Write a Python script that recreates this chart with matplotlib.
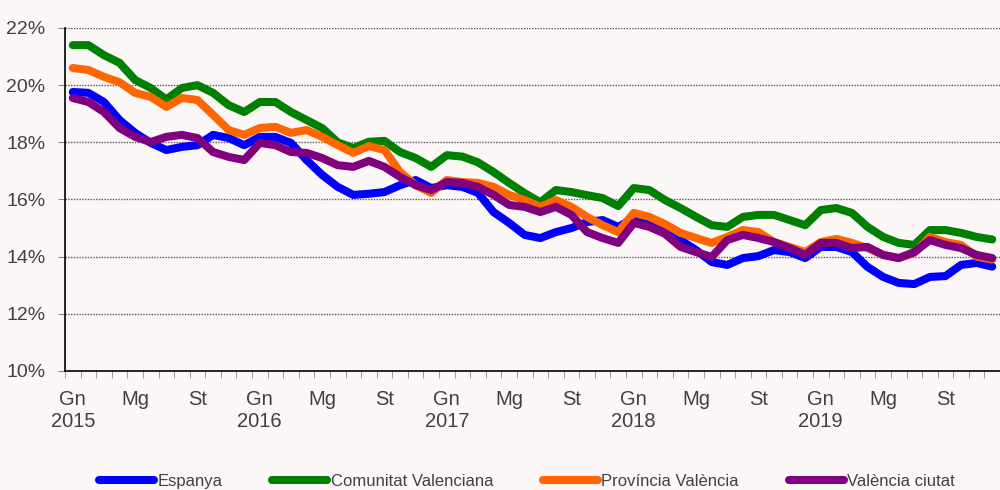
import numpy as np
import matplotlib
matplotlib.use("Agg")
import matplotlib.pyplot as plt

# ---- data: monthly rate, Gn 2015 .. Dc 2019 ---------------------------
years = ["2015", "2016", "2017", "2018", "2019"]
month_tags = ["Gn", "Mg", "St"]  # every 4 months

espanya = [19.76, 19.73, 19.41, 18.78, 18.33, 17.98, 17.73, 17.84, 17.90, 18.26, 18.15, 17.90,
           18.19, 18.19, 17.98, 17.38, 16.86, 16.44, 16.16, 16.20, 16.26, 16.50, 16.68, 16.40,
           16.50, 16.44, 16.23, 15.56, 15.18, 14.76, 14.65, 14.86, 15.00, 15.21, 15.28, 15.04,
           15.35, 15.21, 14.90, 14.58, 14.23, 13.81, 13.71, 13.95, 14.02, 14.23, 14.16, 13.95,
           14.34, 14.34, 14.16, 13.64, 13.29, 13.08, 13.04, 13.29, 13.32, 13.71, 13.78, 13.65]
comunitat = [21.40, 21.40, 21.05, 20.78, 20.18, 19.90, 19.50, 19.90, 20.00, 19.73, 19.30, 19.06,
             19.41, 19.41, 19.06, 18.78, 18.50, 18.00, 17.80, 18.02, 18.05, 17.66, 17.45, 17.14,
             17.55, 17.50, 17.30, 16.96, 16.58, 16.22, 15.90, 16.33, 16.26, 16.15, 16.05, 15.77,
             16.40, 16.33, 15.98, 15.70, 15.39, 15.10, 15.04, 15.39, 15.46, 15.46, 15.28, 15.10,
             15.63, 15.70, 15.53, 15.04, 14.69, 14.48, 14.41, 14.93, 14.93, 14.83, 14.69, 14.60]
provincia = [20.60, 20.53, 20.29, 20.10, 19.73, 19.59, 19.24, 19.55, 19.48, 18.96, 18.43, 18.26,
             18.50, 18.54, 18.33, 18.43, 18.19, 17.90, 17.63, 17.87, 17.73, 16.96, 16.50, 16.23,
             16.68, 16.61, 16.58, 16.44, 16.16, 15.98, 15.74, 15.98, 15.74, 15.39, 15.10, 14.86,
             15.53, 15.39, 15.14, 14.83, 14.65, 14.48, 14.69, 14.93, 14.86, 14.51, 14.34, 14.16,
             14.51, 14.62, 14.48, 14.30, 14.06, 13.95, 14.13, 14.69, 14.51, 14.41, 14.00, 13.90]
ciutat = [19.55, 19.41, 19.06, 18.50, 18.19, 18.01, 18.19, 18.26, 18.15, 17.66, 17.49, 17.38,
          17.98, 17.90, 17.66, 17.63, 17.45, 17.20, 17.14, 17.35, 17.14, 16.79, 16.50, 16.33,
          16.61, 16.58, 16.44, 16.16, 15.81, 15.74, 15.56, 15.74, 15.46, 14.86, 14.65, 14.48,
          15.18, 15.04, 14.80, 14.34, 14.16, 13.99, 14.58, 14.76, 14.65, 14.51, 14.30, 14.06,
          14.48, 14.48, 14.30, 14.34, 14.06, 13.95, 14.16, 14.58, 14.41, 14.30, 14.06, 13.95]

series = [
    ("Espanya", espanya, "#0000FF"),
    ("Comunitat Valenciana", comunitat, "#008000"),
    ("Província València", provincia, "#FF6600"),
    ("València ciutat", ciutat, "#800080"),
]

# ---- style ------------------------------------------------------------
bg = "#FCF7F7"
txt = "#404040"
plt.rcParams["font.family"] = ["Liberation Sans", "DejaVu Sans"]

fig = plt.figure(figsize=(10, 4.9), dpi=100, facecolor=bg)
ax = fig.add_axes([0.065, 0.2429, 0.935, 0.70], facecolor=bg)

x = np.arange(len(espanya))
for name, vals, col in series:
    ax.plot(x, vals, color=col, lw=5.8, label=name,
            solid_capstyle="round", solid_joinstyle="round")

# ---- axes -------------------------------------------------------------
ax.set_ylim(10, 22)
ax.set_xlim(-0.5, 58.7)
ax.set_yticks(np.arange(10, 23, 2))
ax.set_yticklabels([f"{v}%" for v in range(10, 23, 2)])
ax.yaxis.grid(True, linestyle=(0, (1, 1)), color="#555555", lw=1)
ax.set_axisbelow(True)

pos, labs = [], []
for i in range(0, len(espanya), 4):
    tag = month_tags[(i % 12) // 4]
    labs.append(f"{tag}\n{years[i // 12]}" if tag == "Gn" else tag)
    pos.append(i)
ax.set_xticks(pos)
ax.set_xticklabels(labs)
ax.set_xticks(np.arange(-0.5, len(espanya), 1), minor=True)

ax.tick_params(axis="x", which="major", length=0, pad=14, labelsize=14.5, labelcolor=txt)
ax.tick_params(axis="x", which="minor", length=5, color="#888888", direction="out")
ax.tick_params(axis="y", length=5, color="#888888", pad=9, labelsize=14, labelcolor=txt)

for s in ["top", "right"]:
    ax.spines[s].set_visible(False)
for s in ["left", "bottom"]:
    ax.spines[s].set_color("black")
    ax.spines[s].set_linewidth(1.2)

fig.legend(loc="center", bbox_to_anchor=(0.527, 1 - 481 / 490), ncol=4,
           frameon=False, fontsize=12, labelcolor=txt, handlelength=3.3,
           handletextpad=0.2, columnspacing=3.0, borderaxespad=0)

plt.savefig("out.png", dpi=100, facecolor=bg)
